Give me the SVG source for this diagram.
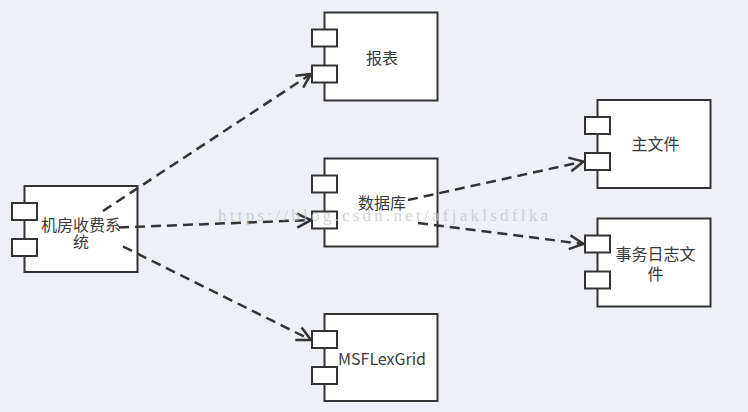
<svg xmlns="http://www.w3.org/2000/svg" width="748" height="412" viewBox="0 0 748 412">
<style>
.box{fill:#fff;stroke:#333;stroke-width:2}
.lbl{font-family:"Noto Sans CJK SC","Noto Sans",sans-serif;font-size:16px;fill:#3a3a3a;text-anchor:middle}
.edge{fill:none;stroke:#333;stroke-width:2.5;stroke-dasharray:10 6}
.wm{font-family:"Liberation Serif",serif;font-size:17px;fill:#c4c4c4;fill-opacity:0.75}
</style>
<defs>
<marker id="arr" markerUnits="userSpaceOnUse" markerWidth="20" markerHeight="20" viewBox="-16 -10 18 20" refX="0" refY="0" orient="auto">
<path d="M-14,-7 L0,0 L-14,7" fill="none" stroke="#333" stroke-width="2.5"/>
</marker>
</defs>
<rect width="748" height="412" fill="#edf1f7"/>
<g id="n1">
<rect class="box" x="24.5" y="186" width="113" height="86"/>
<rect class="box" x="12" y="203" width="25" height="17"/>
<rect class="box" x="12" y="239" width="25" height="17"/>
<text class="lbl" x="81" y="231">机房收费系</text>
<text class="lbl" x="81" y="248">统</text>
</g>
<g id="n2">
<rect class="box" x="324.5" y="12.5" width="113" height="88"/>
<rect class="box" x="312" y="29.5" width="25" height="17"/>
<rect class="box" x="312" y="65.5" width="25" height="17"/>
<text class="lbl" x="382" y="64">报表</text>
</g>
<g id="n3">
<rect class="box" x="324.5" y="158.5" width="113" height="88"/>
<rect class="box" x="312" y="175.5" width="25" height="17"/>
<rect class="box" x="312" y="211.5" width="25" height="17"/>
<text class="lbl" x="382" y="208.5">数据库</text>
</g>
<g id="n4">
<rect class="box" x="324.5" y="314" width="113" height="87"/>
<rect class="box" x="312" y="331" width="25" height="17"/>
<rect class="box" x="312" y="367" width="25" height="17"/>
<text class="lbl" x="382" y="364.5">MSFLexGrid</text>
</g>
<g id="n5">
<rect class="box" x="597.5" y="100" width="113" height="88"/>
<rect class="box" x="585" y="117" width="25" height="17"/>
<rect class="box" x="585" y="153" width="25" height="17"/>
<text class="lbl" x="655.5" y="149.5">主文件</text>
</g>
<g id="n6">
<rect class="box" x="597.5" y="218.5" width="113" height="88"/>
<rect class="box" x="585" y="235.5" width="25" height="17"/>
<rect class="box" x="585" y="271.5" width="25" height="17"/>
<text class="lbl" x="655.5" y="260">事务日志文</text>
<text class="lbl" x="655.5" y="279.5">件</text>
</g>
<g id="edges">
<path class="edge" d="M103,211 L311,74" marker-end="url(#arr)"/>
<path class="edge" d="M119,227.5 L311,220" marker-end="url(#arr)"/>
<path class="edge" d="M123,246.5 L311,340" marker-end="url(#arr)"/>
<path class="edge" d="M408,200 L583.5,161.5" marker-end="url(#arr)"/>
<path class="edge" d="M418,223 L583.5,244" marker-end="url(#arr)"/>
</g>
<text class="wm" x="218" y="221" textLength="330" lengthAdjust="spacing">https://blog.csdn.net/afjaklsdflka</text>
</svg>
